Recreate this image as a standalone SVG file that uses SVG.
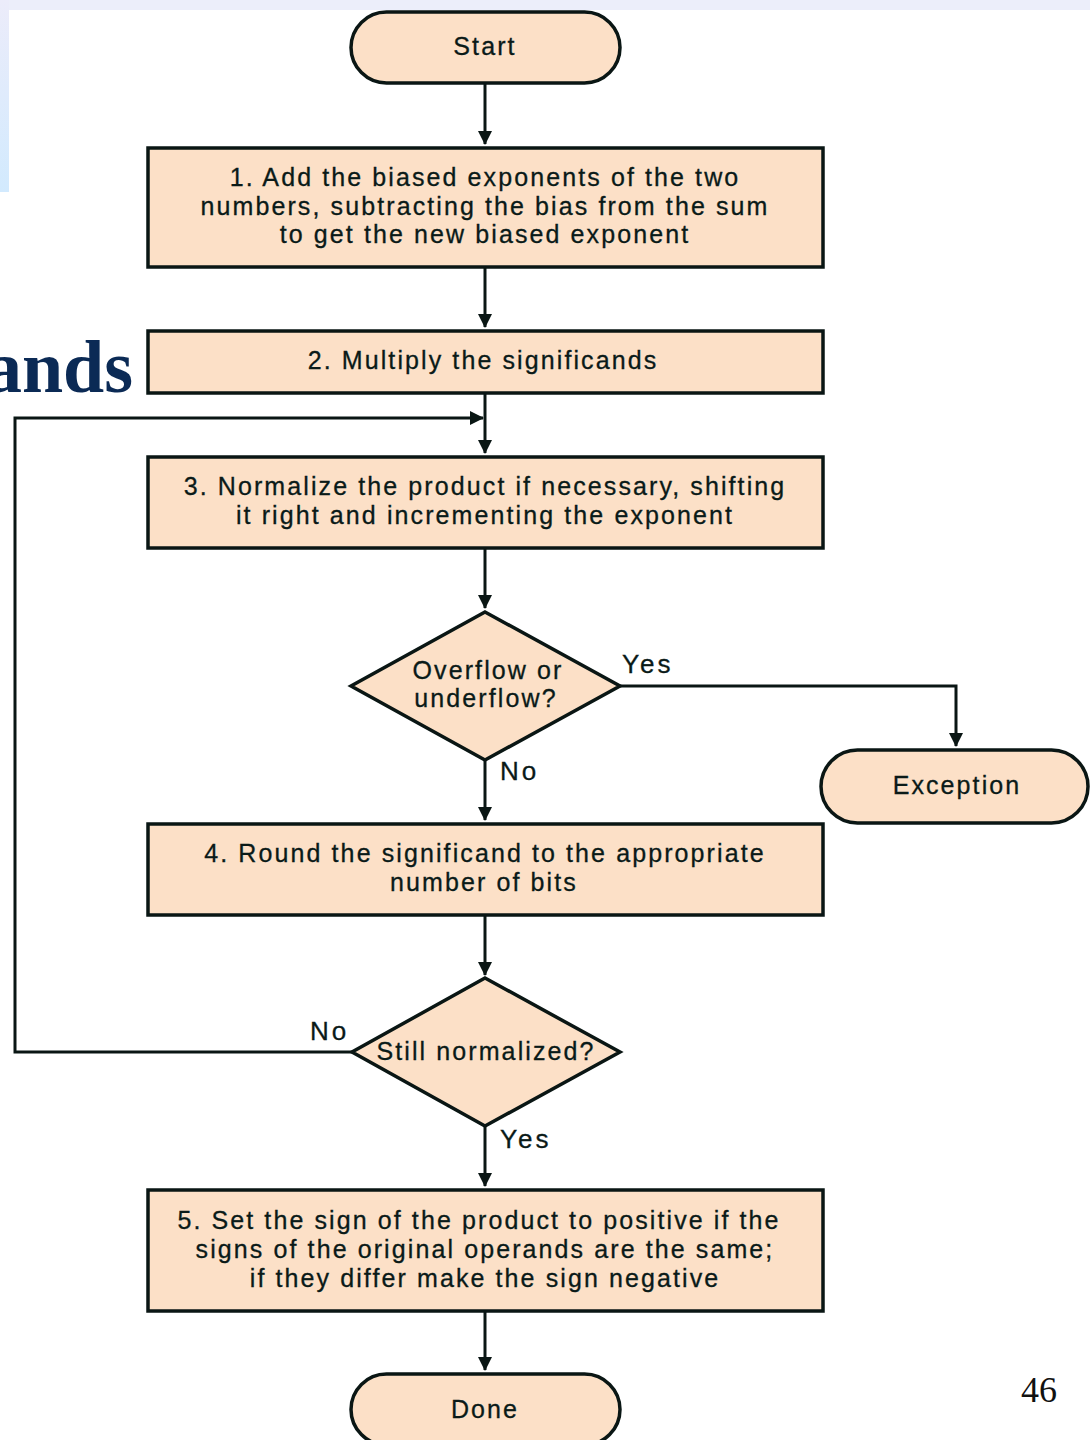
<svg xmlns="http://www.w3.org/2000/svg" width="1090" height="1440" viewBox="0 0 1090 1440">
<defs>
<linearGradient id="side" x1="0" y1="0" x2="0" y2="1">
<stop offset="0" stop-color="#ECECFA"/>
<stop offset="1" stop-color="#D2EAFE"/>
</linearGradient>
<marker id="arr" viewBox="0 0 14 14" refX="13" refY="7" markerWidth="14" markerHeight="14" markerUnits="userSpaceOnUse" orient="auto">
<path d="M0,0 L14,7 L0,14 Z" fill="#0a1614"/>
</marker>
<style>
.shape{fill:#FCE0C7;stroke:#0a1614;stroke-width:3.5}
.t{font-family:"Liberation Sans",Arial,sans-serif;font-size:25px;letter-spacing:2.1px;fill:#0a1a18;stroke:#0a1a18;stroke-width:0.3;text-anchor:middle;dominant-baseline:central}
.lbl{font-family:"Liberation Sans",Arial,sans-serif;font-size:26px;letter-spacing:3px;fill:#0a1a18;stroke:#0a1a18;stroke-width:0.3;dominant-baseline:central}
.c{fill:none;stroke:#0a1614;stroke-width:3}
</style>
</defs>
<rect x="0" y="0" width="1090" height="1440" fill="#ffffff"/>
<rect x="0" y="0" width="1090" height="10" fill="#ECEEFA"/>
<rect x="0" y="0" width="9" height="192" fill="url(#side)"/>
<text x="133" y="392" font-family="Liberation Serif,'Times New Roman',serif" font-weight="bold" font-size="74" fill="#0B2A55" text-anchor="end">ands</text>
<text x="1039" y="1402" font-family="Liberation Serif,'Times New Roman',serif" font-size="36" fill="#111" text-anchor="middle">46</text>

<g id="connectors">
<line class="c" x1="485" y1="84" x2="485" y2="144" marker-end="url(#arr)"/>
<line class="c" x1="485" y1="267" x2="485" y2="327" marker-end="url(#arr)"/>
<line class="c" x1="485" y1="393" x2="485" y2="453" marker-end="url(#arr)"/>
<line class="c" x1="485" y1="548" x2="485" y2="608" marker-end="url(#arr)"/>
<polyline class="c" points="620,686 956,686 956,746" marker-end="url(#arr)"/>
<line class="c" x1="485" y1="760" x2="485" y2="820" marker-end="url(#arr)"/>
<line class="c" x1="485" y1="915" x2="485" y2="975" marker-end="url(#arr)"/>
<polyline class="c" points="352,1052 15,1052 15,418 483,418" marker-end="url(#arr)"/>
<line class="c" x1="485" y1="1126" x2="485" y2="1186" marker-end="url(#arr)"/>
<line class="c" x1="485" y1="1311" x2="485" y2="1370" marker-end="url(#arr)"/>
<text class="lbl" x="622" y="664">Yes</text>
<text class="lbl" x="500" y="771">No</text>
<text class="lbl" x="310" y="1031">No</text>
<text class="lbl" x="500" y="1139">Yes</text>
</g>

<g id="start">
<rect class="shape" x="351" y="12" width="269" height="71" rx="35.5"/>
<text class="t" x="485" y="46">Start</text>
</g>
<g id="step1">
<rect class="shape" x="148" y="148" width="675" height="119"/>
<text class="t" x="485" y="177">1. Add the biased exponents of the two</text>
<text class="t" x="485" y="206">numbers, subtracting the bias from the sum</text>
<text class="t" x="485" y="234">to get the new biased exponent</text>
</g>
<g id="step2">
<rect class="shape" x="148" y="331" width="675" height="62"/>
<text class="t" x="483" y="360">2. Multiply the significands</text>
</g>
<g id="step3">
<rect class="shape" x="148" y="457" width="675" height="91"/>
<text class="t" x="485" y="486">3. Normalize the product if necessary, shifting</text>
<text class="t" x="485" y="515">it right and incrementing the exponent</text>
</g>
<g id="overflow">
<polygon class="shape" points="485,612 620,686 485,760 351,686"/>
<text class="t" x="488" y="670">Overflow or</text>
<text class="t" x="486" y="698">underflow?</text>
</g>
<g id="exception">
<rect class="shape" x="821" y="750" width="267" height="73" rx="36.5"/>
<text class="t" x="957" y="785">Exception</text>
</g>
<g id="step4">
<rect class="shape" x="148" y="824" width="675" height="91"/>
<text class="t" x="485" y="853">4. Round the significand to the appropriate</text>
<text class="t" x="484" y="882">number of bits</text>
</g>
<g id="normalized">
<polygon class="shape" points="485,978 620,1052 485,1126 352,1052"/>
<text class="t" x="486" y="1051">Still normalized?</text>
</g>
<g id="step5">
<rect class="shape" x="148" y="1190" width="675" height="121"/>
<text class="t" x="479" y="1220">5. Set the sign of the product to positive if the</text>
<text class="t" x="485" y="1249">signs of the original operands are the same;</text>
<text class="t" x="485" y="1278">if they differ make the sign negative</text>
</g>
<g id="done">
<rect class="shape" x="351" y="1374" width="269" height="71" rx="35.5"/>
<text class="t" x="485" y="1409">Done</text>
</g>
</svg>
